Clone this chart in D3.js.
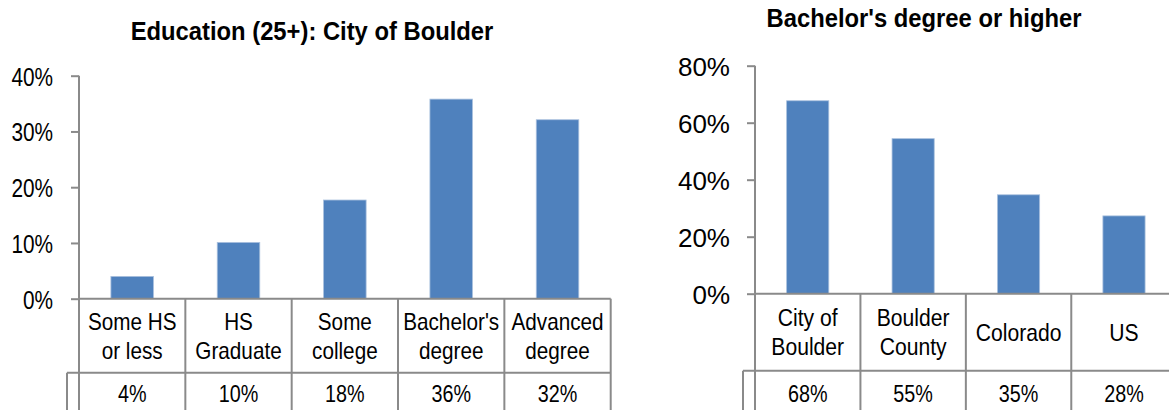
<!DOCTYPE html>
<html>
<head>
<meta charset="utf-8">
<script src="https://cdn.jsdelivr.net/npm/d3@7"></script>
<style>
  body { margin: 0; background: #fff; }
  svg { display: block; }
  text { font-family: "Liberation Sans", Arial, sans-serif; fill: #000; }
</style>
</head>
<body>
<svg id="chart" width="1169" height="410"></svg>
<script>
// data ---------------------------------------------------------------
var eduCats = [["Some HS", "or less"], ["HS", "Graduate"], ["Some", "college"], ["Bachelor's", "degree"], ["Advanced", "degree"]];
var eduValues = [4.0, 10.1, 17.7, 35.8, 32.1];
var eduLabels = ["4%", "10%", "18%", "36%", "32%"];
var eduTicks = [0, 10, 20, 30, 40];

var bachCats = [["City of", "Boulder"], ["Boulder", "County"], ["Colorado"], ["US"]];
var bachValues = [67.7, 54.4, 34.7, 27.3];
var bachLabels = ["68%", "55%", "35%", "28%"];
var bachTicks = [0, 20, 40, 60, 80];

var barColor = "#4f81bd";
var lineColor = "#8a8a8a";

var svg = d3.select("#chart");

// no Arial Narrow here, so squeeze Liberation Sans sideways
function narrowText(parent, x, y, size, sx, txt, bold) {
	return parent.append("g")
		.attr("transform", `translate(${x},${y}) scale(${sx},1)`)
		.append("text")
		.attr("text-anchor", "middle")
		.attr("font-size", size)
		.attr("font-weight", bold ? "bold" : "normal")
		.text(txt);
}

function barChart(opt) {
	var g = svg.append("g");

	var x = d3.scaleBand()
		.domain(d3.range(opt.cats.length))
		.range([opt.left, opt.right])
		.padding(0);

	var y = d3.scaleLinear()
		.domain([0, d3.max(opt.ticks)])
		.range([opt.bottom, opt.top]);

	// title
	narrowText(g, opt.titleX, opt.titleY, 26, 0.915, opt.title, true);

	// bars
	var bw = x.bandwidth() * 0.4;
	g.selectAll("rect.bar")
		.data(opt.values)
		.enter()
		.append("rect")
		.attr("class", "bar")
		.attr("x", (d, i) => x(i) + (x.bandwidth() - bw) / 2)
		.attr("y", d => y(d))
		.attr("width", bw)
		.attr("height", d => opt.bottom - y(d))
		.attr("fill", barColor)
		.attr("stroke", "#a9c0de")
		.attr("stroke-width", 0.8);

	// y axis
	var yAxis = d3.axisLeft(y)
		.tickValues(opt.ticks)
		.tickSize(8)
		.tickPadding(opt.tickPad)
		.tickFormat(d => d + "%");

	var ya = g.append("g")
		.attr("transform", `translate(${opt.left},0)`)
		.call(yAxis);
	ya.select(".domain")
		.attr("d", `M0,${opt.top}V${opt.bottom}`)
		.attr("stroke", lineColor)
		.attr("stroke-width", 2);
	ya.selectAll(".tick line")
		.attr("stroke", lineColor)
		.attr("stroke-width", 2);
	ya.selectAll(".tick text")
		.attr("font-size", 26)
		.attr("font-family", "Liberation Sans, Arial, sans-serif")
		.attr("x", -(8 + opt.tickPad) / opt.tickScale)
		.attr("transform", `scale(${opt.tickScale},1)`)
		.attr("dy", "0.36em");

	// data table under the axis
	var rowY = opt.bottom + opt.rowH;
	var tbl = g.append("g")
		.attr("fill", "none")
		.attr("stroke", lineColor)
		.attr("stroke-width", 2);

	tbl.append("line")
		.attr("x1", opt.left).attr("x2", opt.right)
		.attr("y1", opt.bottom).attr("y2", opt.bottom);
	tbl.append("line")
		.attr("x1", opt.left - 12).attr("x2", opt.right)
		.attr("y1", rowY).attr("y2", rowY);
	tbl.append("line")
		.attr("x1", opt.left - 12).attr("x2", opt.left - 12)
		.attr("y1", rowY).attr("y2", 420);

	var edges = d3.range(opt.cats.length + 1).map(i => opt.left + i * x.step());
	tbl.selectAll("line.edge")
		.data(edges)
		.enter()
		.append("line")
		.attr("class", "edge")
		.attr("x1", d => d).attr("x2", d => d)
		.attr("y1", opt.bottom).attr("y2", 420);

	// category labels
	opt.cats.forEach(function (d, i) {
		var cx = x(i) + x.bandwidth() / 2;
		var y0 = d.length == 1 ? opt.bottom + opt.rowH / 2 + 9 : opt.bottom + opt.catY;
		d.forEach(function (s, k) {
			narrowText(g, cx, y0 + k * 29.5, opt.catSize, opt.catScale, s);
		});
	});

	// value row
	opt.labels.forEach(function (d, i) {
		narrowText(g, x(i) + x.bandwidth() / 2, 402, 23, 0.86, d);
	});
}

barChart({
	cats: eduCats, values: eduValues, labels: eduLabels, ticks: eduTicks,
	left: 79, right: 610.7, top: 75.7, bottom: 298.7, rowH: 74,
	title: "Education (25+): City of Boulder", titleX: 312, titleY: 40,
	tickScale: 0.8, tickPad: 18, catSize: 23, catScale: 0.9, catY: 31
});

barChart({
	cats: bachCats, values: bachValues, labels: bachLabels, ticks: bachTicks,
	left: 755, right: 1176.7, top: 65.7, bottom: 293.7, rowH: 77,
	title: "Bachelor's degree or higher", titleX: 924, titleY: 27,
	tickScale: 1, tickPad: 17, catSize: 24, catScale: 0.88, catY: 32
});
</script>
</body>
</html>
